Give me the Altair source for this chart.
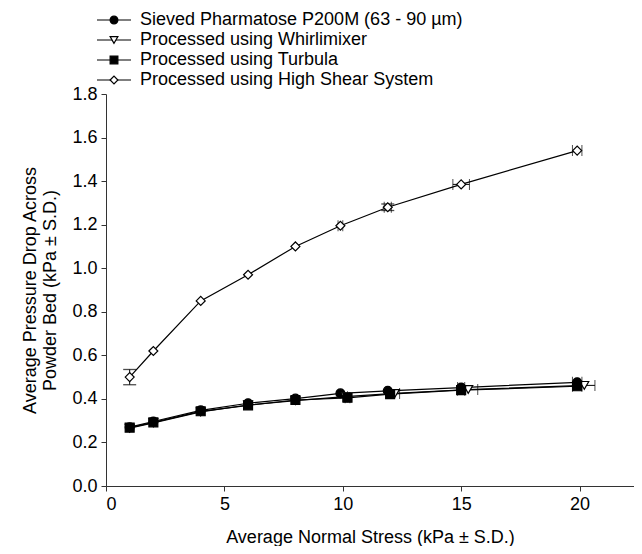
import altair as alt
import pandas as pd

series_names = [
    "Sieved Pharmatose P200M (63 - 90 µm)",
    "Processed using Whirlimixer",
    "Processed using Turbula",
    "Processed using High Shear System",
]
series_shapes = ["circle", "triangle-down", "square", "diamond"]
series_fills = ["black", "white", "black", "white"]
legend_rows = [0, 1, 2, 3]

sieved_x = [1.0, 2.0, 4.0, 6.0, 8.0, 9.9, 11.9, 15.0, 19.9]
sieved_y = [0.270, 0.296, 0.347, 0.380, 0.401, 0.425, 0.437, 0.452, 0.476]
sieved_xerr = [0, 0, 0, 0, 0, 0, 0, 0.15, 0.2]

whirl_x = [1.0, 2.0, 4.0, 6.0, 8.0, 10.1, 12.2, 15.3, 20.2]
whirl_y = [0.265, 0.290, 0.340, 0.372, 0.392, 0.410, 0.425, 0.443, 0.462]
whirl_xerr = [0, 0, 0, 0, 0, 0.1, 0.2, 0.4, 0.45]

turb_x = [1.0, 2.0, 4.0, 6.0, 8.0, 10.2, 12.0, 15.0, 19.9]
turb_y = [0.268, 0.292, 0.343, 0.370, 0.395, 0.405, 0.422, 0.440, 0.458]
turb_xerr = [0, 0, 0, 0, 0, 0.1, 0, 0.15, 0.2]

hs_x = [1.0, 2.0, 4.0, 6.0, 8.0, 9.9, 11.9, 15.0, 19.9]
hs_y = [0.50, 0.62, 0.85, 0.97, 1.10, 1.195, 1.28, 1.385, 1.54]
hs_xerr = [0, 0, 0, 0, 0, 0.1, 0.15, 0.35, 0.2]
hs_yerr = [0.035, 0, 0, 0, 0, 0, 0.015, 0, 0]

x_ticks = [0, 5, 10, 15, 20]
y_ticks = [0.0, 0.2, 0.4, 0.6, 0.8, 1.0, 1.2, 1.4, 1.6, 1.8]

FONT = "Liberation Sans"
FS = 18

rows = []
err_rows = []
cap_rows = []
for name, xs, ys, xe, ye in [
    (series_names[0], sieved_x, sieved_y, sieved_xerr, [0] * 9),
    (series_names[1], whirl_x, whirl_y, whirl_xerr, [0] * 9),
    (series_names[2], turb_x, turb_y, turb_xerr, [0] * 9),
    (series_names[3], hs_x, hs_y, hs_xerr, hs_yerr),
]:
    for i, (x, y, ex, ey) in enumerate(zip(xs, ys, xe, ye)):
        rows.append({"series": name, "x": x, "y": y, "i": i})
        if ex > 0:
            err_rows.append({"series": name, "x": x - ex, "x2": x + ex, "y": y, "y2": y})
            cap_rows.append({"x": x - ex, "y": y, "orient": "v"})
            cap_rows.append({"x": x + ex, "y": y, "orient": "v"})
        if ey > 0:
            err_rows.append({"series": name, "x": x, "x2": x, "y": y - ey, "y2": y + ey})
            cap_rows.append({"x": x, "y": y - ey, "orient": "h"})
            cap_rows.append({"x": x, "y": y + ey, "orient": "h"})

df = pd.DataFrame(rows)
err_df = pd.DataFrame(err_rows)
cap_df = pd.DataFrame(cap_rows)
legend_df = pd.DataFrame({"series": series_names, "row": legend_rows})

xscale = alt.Scale(domain=[0, 22.3], nice=False, zero=False)
yscale = alt.Scale(domain=[0, 1.8], nice=False)
shape_scale = alt.Scale(domain=series_names, range=series_shapes)
fill_scale = alt.Scale(domain=series_names, range=series_fills)

X = alt.X("x:Q", scale=xscale,
          axis=alt.Axis(values=x_ticks, title="Average Normal Stress (kPa ± S.D.)",
                        titlePadding=15, format="d"))
Y = alt.Y("y:Q", scale=yscale,
          axis=alt.Axis(values=y_ticks, format=".1f",
                        title=["Average Pressure Drop Across", "Powder Bed (kPa ± S.D.)"],
                        titlePadding=12, titleLineHeight=20))

lines = alt.Chart(df).mark_line(color="black", strokeWidth=1.2).encode(
    x=X, y=Y, detail="series:N", order="i:Q"
)

errs = alt.Chart(err_df).mark_rule(color="black", strokeWidth=1).encode(
    x=alt.X("x:Q", scale=xscale), x2="x2:Q",
    y=alt.Y("y:Q", scale=yscale), y2="y2:Q"
)

vcaps = alt.Chart(cap_df).transform_filter("datum.orient == 'v'").mark_tick(
    orient="vertical", color="black", thickness=1, size=11
).encode(x=alt.X("x:Q", scale=xscale), y=alt.Y("y:Q", scale=yscale))

hcaps = alt.Chart(cap_df).transform_filter("datum.orient == 'h'").mark_tick(
    orient="horizontal", color="black", thickness=1.3, size=13
).encode(x=alt.X("x:Q", scale=xscale), y=alt.Y("y:Q", scale=yscale))

points = alt.Chart(df).mark_point(filled=False, stroke="black", strokeWidth=1.2, opacity=1).encode(
    x=alt.X("x:Q", scale=xscale), y=alt.Y("y:Q", scale=yscale),
    shape=alt.Shape("series:N", scale=shape_scale, legend=None),
    fill=alt.Fill("series:N", scale=fill_scale, legend=None),
    size=alt.value(80),
)

data_layer = alt.layer(lines, errs, vcaps, hcaps, points)

LY = alt.Y("row:Q", axis=None, scale=alt.Scale(domain=[0, 3], range=[-74, -14], nice=False, zero=False))

leg_rule = alt.Chart(legend_df).mark_rule(color="black", strokeWidth=1.2).encode(
    x=alt.value(-9), x2=alt.value(25), y=LY
)
leg_pts = alt.Chart(legend_df).mark_point(filled=False, stroke="black", strokeWidth=1.2, opacity=1).encode(
    x=alt.value(8), y=LY,
    shape=alt.Shape("series:N", scale=shape_scale, legend=None),
    fill=alt.Fill("series:N", scale=fill_scale, legend=None),
    size=alt.value(60),
)
leg_txt = alt.Chart(legend_df).mark_text(
    align="left", baseline="middle", font=FONT, fontSize=FS, color="black"
).encode(x=alt.value(34), y=LY, text="series:N")

legend_layer = alt.layer(leg_rule, leg_pts, leg_txt)

chart = alt.layer(data_layer, legend_layer).resolve_scale(y="independent").properties(
    width=528, height=392,
    padding={"left": 98, "top": 86, "right": 0, "bottom": 60},
    autosize=alt.AutoSizeParams(type="none"),
).configure_view(stroke=None).configure_axis(
    labelFont=FONT, titleFont=FONT, labelFontSize=FS, titleFontSize=FS,
    labelColor="black", titleColor="black", titleFontWeight="normal",
    domainColor="#333", tickColor="#333", tickSize=5, grid=False, labelPadding=4,
)

chart.save("out.html", embed_options={"renderer": "svg", "actions": False})
